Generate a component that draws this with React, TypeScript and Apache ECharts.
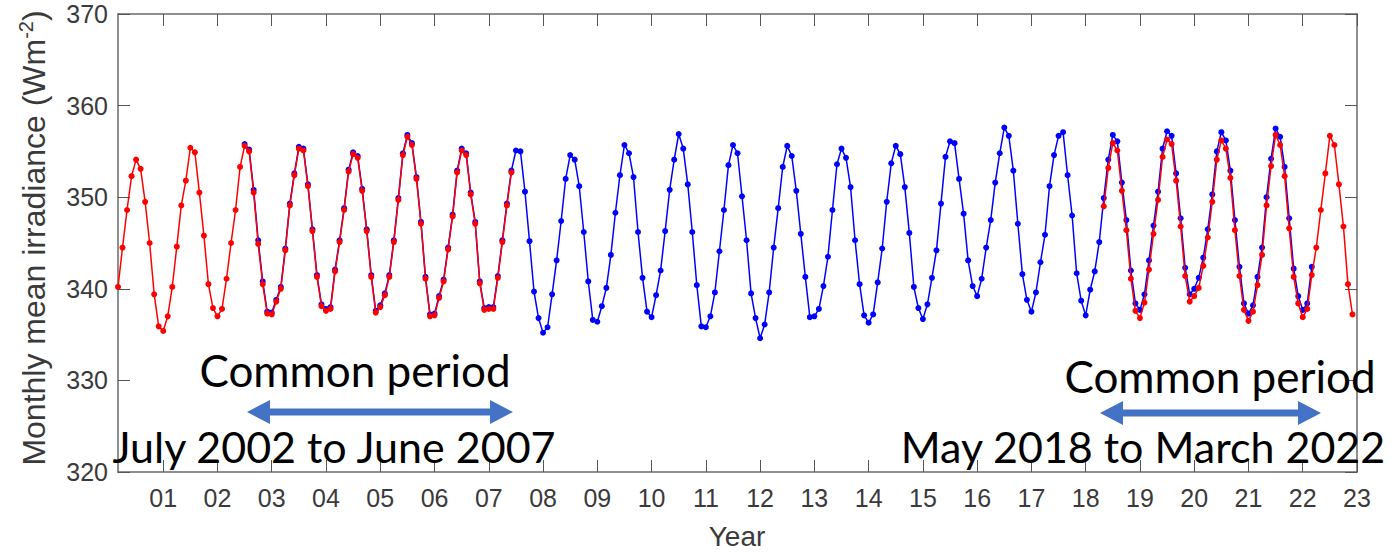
import React, { useEffect, useRef } from "react";
import * as echarts from "echarts";

// Monthly series: [startYear, startMonth] + consecutive monthly values (W m-2)
const RED1_START: [number, number] = [2000, 3];
const red1Values = [
  // 2000 Mar-Dec
  340.2, 344.5, 348.6, 352.3, 354.1, 353.1, 349.5, 345.0, 339.4, 335.9,
  // 2001
  335.4, 337.0, 340.2, 344.6, 349.1, 351.8, 355.4, 354.9, 350.5, 345.8, 340.5, 337.9,
  // 2002
  337.0, 337.8, 341.1, 345.0, 348.6, 353.3, 355.6, 355.0, 350.5, 344.9, 340.5, 337.3,
  // 2003
  337.2, 338.6, 340.0, 344.2, 349.1, 352.4, 355.3, 355.1, 351.2, 346.3, 341.3, 338.1,
  // 2004
  337.6, 337.8, 341.9, 345.1, 348.6, 352.8, 354.7, 354.3, 350.7, 346.3, 341.3, 337.4,
  // 2005
  338.0, 339.3, 341.3, 345.1, 349.7, 354.6, 356.6, 355.7, 352.0, 347.1, 341.1, 337.0,
  // 2006
  337.1, 339.0, 340.8, 344.3, 347.9, 352.7, 355.1, 354.6, 350.3, 347.1, 340.6, 337.7,
  // 2007 Jan-Jun
  337.8, 337.8, 341.2, 345.1, 349.1, 352.7,
];

const BLUE_START: [number, number] = [2002, 7];
const blueValues = [
  // 2002 Jul-Dec
  355.8, 355.2, 350.8, 345.3, 340.8, 337.5,
  // 2003
  337.4, 338.8, 340.2, 344.4, 349.3, 352.6, 355.5, 355.3, 351.4, 346.5, 341.5, 338.3,
  // 2004
  337.8, 338.0, 342.1, 345.3, 348.8, 353.0, 354.9, 354.5, 350.9, 346.5, 341.5, 337.6,
  // 2005
  338.2, 339.5, 341.5, 345.3, 349.9, 354.8, 356.8, 355.9, 352.2, 347.3, 341.3, 337.2,
  // 2006
  337.3, 339.2, 341.0, 344.5, 348.1, 352.9, 355.3, 354.8, 350.5, 347.3, 340.8, 337.9,
  // 2007
  338.0, 338.0, 341.4, 345.3, 349.3, 352.9, 355.1, 355.0, 350.6, 345.2, 339.7, 336.8,
  // 2008
  335.2, 335.8, 339.4, 343.1, 347.4, 352.0, 354.6, 354.1, 351.2, 346.2, 340.8, 336.6,
  // 2009
  336.4, 338.1, 340.1, 343.7, 348.3, 352.4, 355.7, 354.8, 352.2, 346.2, 341.2, 337.5,
  // 2010
  336.9, 339.3, 342.0, 346.3, 350.8, 354.1, 356.9, 355.3, 351.4, 346.2, 340.4, 335.9,
  // 2011
  335.8, 337.0, 339.6, 344.1, 348.6, 353.5, 355.7, 354.8, 350.1, 345.3, 339.5, 336.8,
  // 2012
  334.6, 336.1, 339.6, 344.5, 348.8, 353.3, 355.6, 354.5, 350.7, 346.0, 341.3, 336.9,
  // 2013
  337.0, 337.8, 340.3, 343.5, 348.6, 353.6, 355.3, 354.3, 351.1, 345.3, 340.5, 337.1,
  // 2014
  336.3, 337.2, 340.7, 344.4, 349.5, 353.7, 355.6, 354.7, 351.1, 346.1, 340.2, 337.9,
  // 2015
  336.7, 338.3, 341.2, 344.2, 349.3, 354.4, 356.1, 355.9, 352.0, 348.2, 343.1, 340.3,
  // 2016
  339.2, 341.1, 344.5, 347.5, 351.6, 354.8, 357.6, 356.7, 352.9, 347.1, 341.6, 338.8,
  // 2017
  337.5, 339.6, 342.9, 345.9, 351.2, 354.6, 356.7, 357.1, 352.4, 348.0, 341.7, 338.7,
  // 2018
  337.1, 339.9, 341.9, 345.1, 349.9, 354.1, 356.8, 356.1, 351.6, 347.5, 342.0, 338.4,
  // 2019
  337.7, 339.4, 343.1, 346.9, 350.6, 355.3, 357.2, 356.7, 352.6, 347.7, 342.3, 339.4,
  // 2020
  340.0, 341.2, 343.4, 346.5, 350.3, 355.0, 357.1, 356.2, 352.9, 347.5, 342.4, 338.4,
  // 2021
  337.3, 338.2, 341.3, 344.5, 350.0, 354.2, 357.5, 356.6, 353.3, 347.7, 342.2, 339.2,
  // 2022 Jan-Mar
  337.7, 338.4, 342.4,
];

const RED2_START: [number, number] = [2018, 5];
const red2Values = [
  // 2018 May-Dec
  349.0, 353.2, 355.9, 355.1, 350.7, 346.4, 341.1, 337.6,
  // 2019
  336.8, 338.5, 342.1, 346.0, 349.7, 354.4, 356.3, 355.8, 351.8, 346.8, 341.4, 338.6,
  // 2020
  339.2, 340.1, 342.5, 345.6, 349.5, 354.1, 356.2, 355.3, 352.1, 346.4, 341.4, 337.7,
  // 2021
  336.5, 337.5, 340.4, 343.7, 349.1, 353.4, 356.8, 355.7, 352.3, 346.6, 341.3, 338.4,
  // 2022
  336.9, 337.8, 341.5, 344.5, 348.6, 352.6, 356.7, 355.7, 351.4, 346.8, 340.5, 337.2,
];

const yearTicks = [
  2001, 2002, 2003, 2004, 2005, 2006, 2007, 2008, 2009, 2010, 2011, 2012,
  2013, 2014, 2015, 2016, 2017, 2018, 2019, 2020, 2021, 2022, 2023,
];

const X_MIN = 2000 + 2 / 12;
const X_MAX = 2023;
const Y_MIN = 320;
const Y_MAX = 370;
const Y_INTERVAL = 10;

const annotations = [
  { title: "Common period", range: "July 2002 to June 2007" },
  { title: "Common period", range: "May 2018 to March 2022" },
];

function toSeries(start: [number, number], values: number[]) {
  return values.map((v, i) => {
    const m = start[1] - 1 + i;
    return [start[0] + m / 12, v];
  });
}

function arrowPoints(x1: number, x2: number, y: number) {
  const h = 23;
  const hh = 12;
  const t = 3.5;
  return [
    [x1, y],
    [x1 + h, y - hh],
    [x1 + h, y - t],
    [x2 - h, y - t],
    [x2 - h, y - hh],
    [x2, y],
    [x2 - h, y + hh],
    [x2 - h, y + t],
    [x1 + h, y + t],
    [x1 + h, y + hh],
  ];
}

export default function App() {
  const ref = useRef<HTMLDivElement>(null);

  useEffect(() => {
    if (!ref.current) return;
    const chart = echarts.init(ref.current, undefined, { renderer: "svg" });
    const axisColor = "#6a6a6a";
    const labelColor = "#3a3a3a";
    const font = "Liberation Sans";
    const annFont = "Lato";
    const arrowColor = "#4472C4";

    const lineSeries = (name: string, data: number[][], color: string, z: number) => ({
      name,
      type: "line",
      data,
      symbol: "circle",
      symbolSize: 6,
      showSymbol: true,
      itemStyle: { color },
      lineStyle: { color, width: 1.5 },
      z,
      xAxisIndex: 0,
      yAxisIndex: 0,
    });

    chart.setOption({
      animation: false,
      backgroundColor: "#ffffff",
      textStyle: { fontFamily: font },
      grid: { left: 118, right: 34, top: 14, bottom: 81, containLabel: false },
      xAxis: [
        {
          type: "value",
          position: "bottom",
          min: X_MIN,
          max: X_MAX,
          axisLine: { show: true, onZero: false, lineStyle: { color: axisColor, width: 1.5 } },
          axisTick: {
            show: true,
            inside: true,
            length: 12,
            customValues: yearTicks,
            lineStyle: { color: "#555", width: 1 },
          },
          axisLabel: {
            customValues: yearTicks,
            formatter: (v: number) => String(Math.round(v) % 100).padStart(2, "0"),
            fontSize: 25,
            color: labelColor,
            margin: 13,
            fontFamily: font,
          },
          splitLine: { show: false },
        },
        {
          type: "value",
          position: "top",
          min: X_MIN,
          max: X_MAX,
          axisLine: { show: true, onZero: false, lineStyle: { color: axisColor, width: 1.5 } },
          axisTick: {
            show: true,
            inside: true,
            length: 12,
            customValues: yearTicks,
            lineStyle: { color: "#555", width: 1 },
          },
          axisLabel: { show: false },
          splitLine: { show: false },
        },
      ],
      yAxis: [
        {
          type: "value",
          position: "left",
          min: Y_MIN,
          max: Y_MAX,
          interval: Y_INTERVAL,
          axisLine: { show: true, lineStyle: { color: axisColor, width: 1.5 } },
          axisTick: { show: true, inside: true, length: 12, lineStyle: { color: "#555", width: 1 } },
          axisLabel: { fontSize: 25, color: labelColor, margin: 10, fontFamily: font },
          splitLine: { show: false },
        },
        {
          type: "value",
          position: "right",
          min: Y_MIN,
          max: Y_MAX,
          interval: Y_INTERVAL,
          axisLine: { show: true, lineStyle: { color: axisColor, width: 1.5 } },
          axisTick: { show: true, inside: true, length: 12, lineStyle: { color: "#555", width: 1 } },
          axisLabel: { show: false },
          splitLine: { show: false },
        },
      ],
      series: [
        lineSeries("blue", toSeries(BLUE_START, blueValues), "#0000ff", 2),
        lineSeries("red1", toSeries(RED1_START, red1Values), "#ff0000", 3),
        lineSeries("red2", toSeries(RED2_START, red2Values), "#ff0000", 3),
      ],
      graphic: [
        {
          type: "text",
          x: 34,
          y: 238,
          rotation: Math.PI / 2,
          z: 100,
          style: {
            text: "{a|Monthly mean irradiance (Wm}{s|-2}{a|)}",
            align: "center",
            verticalAlign: "middle",
            fill: labelColor,
            rich: {
              a: { fontSize: 32, fontFamily: font, fill: labelColor, lineHeight: 36 },
              s: { fontSize: 20, fontFamily: font, fill: labelColor, verticalAlign: "top", lineHeight: 36, padding: [0, 0, 10, 0] },
            },
          },
        },
        {
          type: "text",
          x: 737,
          y: 536,
          z: 100,
          style: { text: "Year", fontSize: 28, fontFamily: font, fill: labelColor, align: "center", verticalAlign: "middle" },
        },
        {
          type: "text",
          x: 355,
          y: 370,
          z: 100,
          style: { text: annotations[0].title, fontSize: 44, fontFamily: annFont, fill: "#000", align: "center", verticalAlign: "middle" },
        },
        {
          type: "text",
          x: 334,
          y: 446,
          z: 100,
          style: { text: annotations[0].range, fontSize: 43, fontFamily: annFont, fill: "#000", align: "center", verticalAlign: "middle" },
        },
        {
          type: "text",
          x: 1220,
          y: 376,
          z: 100,
          style: { text: annotations[1].title, fontSize: 44, fontFamily: annFont, fill: "#000", align: "center", verticalAlign: "middle" },
        },
        {
          type: "text",
          x: 1143,
          y: 446,
          z: 100,
          style: { text: annotations[1].range, fontSize: 43, fontFamily: annFont, fill: "#000", align: "center", verticalAlign: "middle" },
        },
        {
          type: "polygon",
          z: 100,
          shape: { points: arrowPoints(247, 513, 412) },
          style: { fill: arrowColor },
        },
        {
          type: "polygon",
          z: 100,
          shape: { points: arrowPoints(1100, 1321, 413) },
          style: { fill: arrowColor },
        },
      ],
    });

    return () => chart.dispose();
  }, []);

  return (
    <div
      ref={ref}
      style={{ position: "absolute", left: 0, top: 0, width: 1391, height: 553, background: "#fff" }}
    />
  );
}
